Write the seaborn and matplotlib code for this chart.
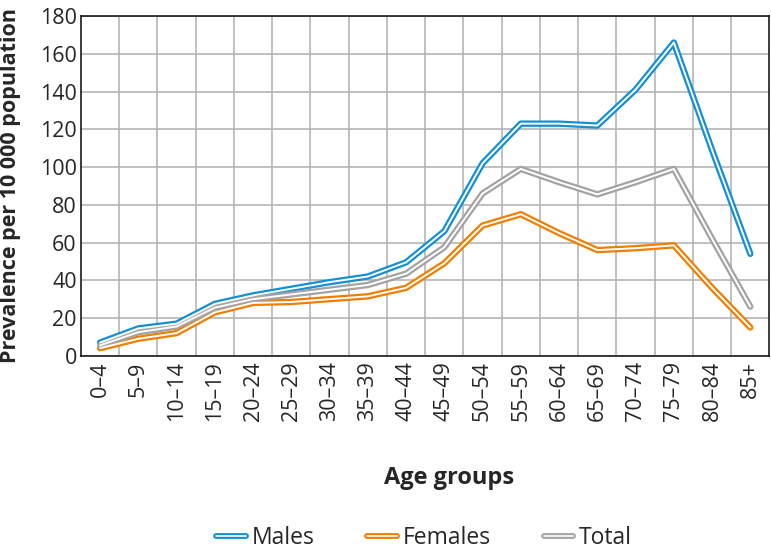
import pandas as pd
import matplotlib
matplotlib.use('Agg')
import matplotlib.pyplot as plt
from matplotlib.lines import Line2D
from matplotlib.legend_handler import HandlerTuple
from matplotlib.ticker import MultipleLocator, FixedLocator
import seaborn as sns

age_groups = ['0–4', '5–9', '10–14', '15–19', '20–24', '25–29', '30–34', '35–39',
              '40–44', '45–49', '50–54', '55–59', '60–64', '65–69', '70–74',
              '75–79', '80–84', '85+']
males = [7, 14.5, 17, 27.5, 32, 35.5, 39, 42, 49.5, 66, 102, 123, 123, 122, 141, 166, 109, 54]
females = [4, 9, 12, 23, 28, 28.5, 30, 31.5, 36, 49, 69, 75, 65, 56, 57, 58.5, 36, 15]
total = [5.5, 12.5, 15.5, 25.5, 30, 32.5, 35, 37.5, 43.5, 57.5, 86, 99, 92, 85.5, 92, 99, 62, 26]

series = ['Males', 'Females', 'Total']
colors = {'Males': '#1390d4', 'Females': '#f07e00', 'Total': '#a3a3a3'}

df = pd.DataFrame({
    'Age groups': age_groups * 3,
    'value': males + females + total,
    'sex': ['Males'] * len(age_groups) + ['Females'] * len(age_groups) + ['Total'] * len(age_groups),
})
df['pos'] = df['Age groups'].map({a: i for i, a in enumerate(age_groups)})

sns.set_style('white')
plt.rcParams['font.family'] = ['Open Sans', 'DejaVu Sans']

fig = plt.figure(figsize=(7.71, 5.55), dpi=100)
ax = fig.add_axes([0.105, 0.359, 0.893, 0.612])

# double lines: thick colour stroke with a thin white core
sns.lineplot(data=df, x='pos', y='value', hue='sex', hue_order=series, palette=colors,
             linewidth=4.6, sort=False, legend=False, ax=ax, zorder=3)
sns.lineplot(data=df, x='pos', y='value', units='sex', estimator=None, color='white',
             linewidth=1.4, sort=False, legend=False, ax=ax, zorder=4)

ax.set_xlim(-0.5, len(age_groups) - 0.5)
ax.set_ylim(0, 180)
ax.yaxis.set_major_locator(MultipleLocator(20))
ax.xaxis.set_major_locator(FixedLocator(range(len(age_groups))))
ax.xaxis.set_minor_locator(FixedLocator([i + 0.5 for i in range(len(age_groups) - 1)]))
ax.set_xticklabels(age_groups, rotation=90, fontsize=15.5)
ax.tick_params(axis='y', labelsize=15.5, length=0, pad=3)
ax.tick_params(axis='x', which='both', length=0, pad=4)

ax.grid(axis='y', which='major', color='#b5b5b5', linewidth=1.2)
ax.grid(axis='x', which='minor', color='#b5b5b5', linewidth=1.2)
ax.grid(axis='x', which='major', visible=False)
ax.set_axisbelow(True)
for s in ax.spines.values():
    s.set_color('#1a1a1a')
    s.set_linewidth(1.2)

ax.set_ylabel('Prevalence per 10 000 population', fontsize=15.5, fontweight='bold')
ax.yaxis.set_label_coords(-0.087, 0.5)
ax.set_xlabel('Age groups', fontsize=17, fontweight='bold')
ax.xaxis.set_label_coords((449 - 81) / 689, -0.325)

handles = [(Line2D([], [], color=colors[s], lw=4.2), Line2D([], [], color='white', lw=1.2))
           for s in series]
fig.legend(handles, series, loc='center', bbox_to_anchor=(0.55, 0.03), ncol=3,
           frameon=False, fontsize=16.5, handlelength=1.3, handletextpad=0.25,
           columnspacing=2.3, handler_map={tuple: HandlerTuple(ndivide=1)})

fig.savefig('out.png', dpi=100)
